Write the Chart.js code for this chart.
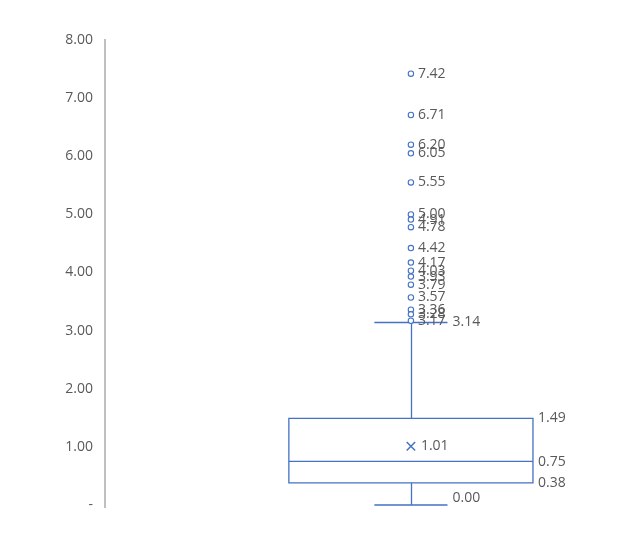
<!DOCTYPE html>
<html><head><meta charset="utf-8">
<script src="https://cdn.jsdelivr.net/npm/chart.js@4/dist/chart.umd.min.js"></script>
<style>html,body{margin:0;padding:0;background:#fff}#wrap{width:640px;height:555px}</style>
</head><body><div id="wrap"><canvas id="c" width="640" height="555"></canvas></div>
<script>
// ---- data ----
const yTickValues = [0, 1, 2, 3, 4, 5, 6, 7, 8];
const whiskerMin = 0.00;
const quartile1 = 0.38;
const medianValue = 0.75;
const quartile3 = 1.49;
const whiskerMax = 3.14;
const meanValue = 1.01;
const outliers = [7.42, 6.71, 6.20, 6.05, 5.55, 5.00, 4.91, 4.78, 4.42, 4.17, 4.03, 3.93, 3.79, 3.57, 3.36, 3.28, 3.17];

// ---- styling / layout constants ----
const BLUE = '#4472C4';
const TEXT = '#595959';
const FONT = '"Open Sans", "Liberation Sans", sans-serif';
const FONT_SIZE = 14;
const XPOS = 0.594;      // category position on hidden x scale
const BOX_HALF = 0.237;  // half width of box in x units
const CAP_HALF = 0.071;  // half width of whisker caps in x units

function fmt(v){ return v.toFixed(2); }

const boxPlugin = {
  id: 'boxPlugin',
  beforeDatasetsDraw(chart){
    const {ctx, scales:{x, y}} = chart;
    const cx = Math.round(x.getPixelForValue(XPOS)) + 0.5;
    const bl = x.getPixelForValue(XPOS - BOX_HALF), br = x.getPixelForValue(XPOS + BOX_HALF);
    const cl = x.getPixelForValue(XPOS - CAP_HALF), cr = x.getPixelForValue(XPOS + CAP_HALF);
    const yq1 = y.getPixelForValue(quartile1), yq3 = y.getPixelForValue(quartile3);
    const ymed = y.getPixelForValue(medianValue);
    const ymin = y.getPixelForValue(whiskerMin), ymax = y.getPixelForValue(whiskerMax);
    ctx.save();
    ctx.strokeStyle = BLUE; ctx.lineWidth = 1.3;
    ctx.beginPath();
    ctx.rect(bl, yq3, br - bl, yq1 - yq3);
    ctx.moveTo(bl, ymed); ctx.lineTo(br, ymed);
    ctx.moveTo(cx, yq3); ctx.lineTo(cx, ymax);
    ctx.moveTo(cl, ymax); ctx.lineTo(cr, ymax);
    ctx.moveTo(cx, yq1); ctx.lineTo(cx, ymin);
    ctx.moveTo(cl, ymin); ctx.lineTo(cr, ymin);
    ctx.stroke();
    ctx.restore();
  },
  afterDatasetsDraw(chart){
    const {ctx, scales:{x, y}} = chart;
    const cx = x.getPixelForValue(XPOS);
    const br = x.getPixelForValue(XPOS + BOX_HALF);
    const cr = x.getPixelForValue(XPOS + CAP_HALF);
    ctx.save();
    ctx.fillStyle = TEXT;
    ctx.font = FONT_SIZE + 'px ' + FONT;
    ctx.textAlign = 'left';
    ctx.textBaseline = 'middle';
    outliers.forEach(v => ctx.fillText(fmt(v), cx + 7, y.getPixelForValue(v)));
    ctx.fillText(fmt(meanValue), cx + 10, y.getPixelForValue(meanValue));
    ctx.fillText(fmt(quartile3), br + 5, y.getPixelForValue(quartile3));
    ctx.fillText(fmt(medianValue), br + 5, y.getPixelForValue(medianValue) + 1);
    ctx.fillText(fmt(quartile1), br + 5, y.getPixelForValue(quartile1));
    ctx.fillText(fmt(whiskerMax), cr + 5, y.getPixelForValue(whiskerMax));
    ctx.fillText(fmt(whiskerMin), cr + 5, y.getPixelForValue(whiskerMin) - 7);
    ctx.restore();
  }
};

const axisExtend = {
  id: 'axisExtend',
  afterDraw(chart){
    const {ctx, chartArea} = chart;
    ctx.save();
    ctx.strokeStyle = '#BFBFBF'; ctx.lineWidth = 2;
    ctx.beginPath();
    ctx.moveTo(chartArea.left, chartArea.bottom - 1);
    ctx.lineTo(chartArea.left, chartArea.bottom + 3);
    ctx.stroke();
    ctx.restore();
  }
};

new Chart(document.getElementById('c'), {
  type: 'scatter',
  data: {
    datasets: [
      {
        label: 'Outliers',
        data: outliers.map(v => ({x: XPOS, y: v})),
        pointStyle: 'circle', pointRadius: 2.7,
        borderColor: BLUE, backgroundColor: '#fff', borderWidth: 1.1
      },
      {
        label: 'Mean',
        data: [{x: XPOS, y: meanValue}],
        pointStyle: 'crossRot', pointRadius: 6,
        borderColor: BLUE, backgroundColor: BLUE, borderWidth: 1.5
      }
    ]
  },
  options: {
    responsive: false,
    animation: false,
    layout: { padding: { top: 40, right: 20, bottom: 50, left: 0 } },
    plugins: { legend: { display: false }, tooltip: { enabled: false } },
    scales: {
      x: { type: 'linear', min: 0, max: 1, display: false },
      y: {
        min: 0, max: 8,
        afterBuildTicks(scale){ scale.ticks = yTickValues.map(v => ({value: v})); },
        afterFit(scale){ scale.width = 105; },
        ticks: {
          padding: 12, color: TEXT,
          font: { family: FONT, size: FONT_SIZE },
          callback: v => v === 0 ? '-' : fmt(v)
        },
        grid: { display: true, color: 'rgba(0,0,0,0)', drawTicks: false },
        border: { display: true, color: '#BFBFBF', width: 2 }
      }
    }
  },
  plugins: [boxPlugin, axisExtend]
});
</script>
</body></html>
